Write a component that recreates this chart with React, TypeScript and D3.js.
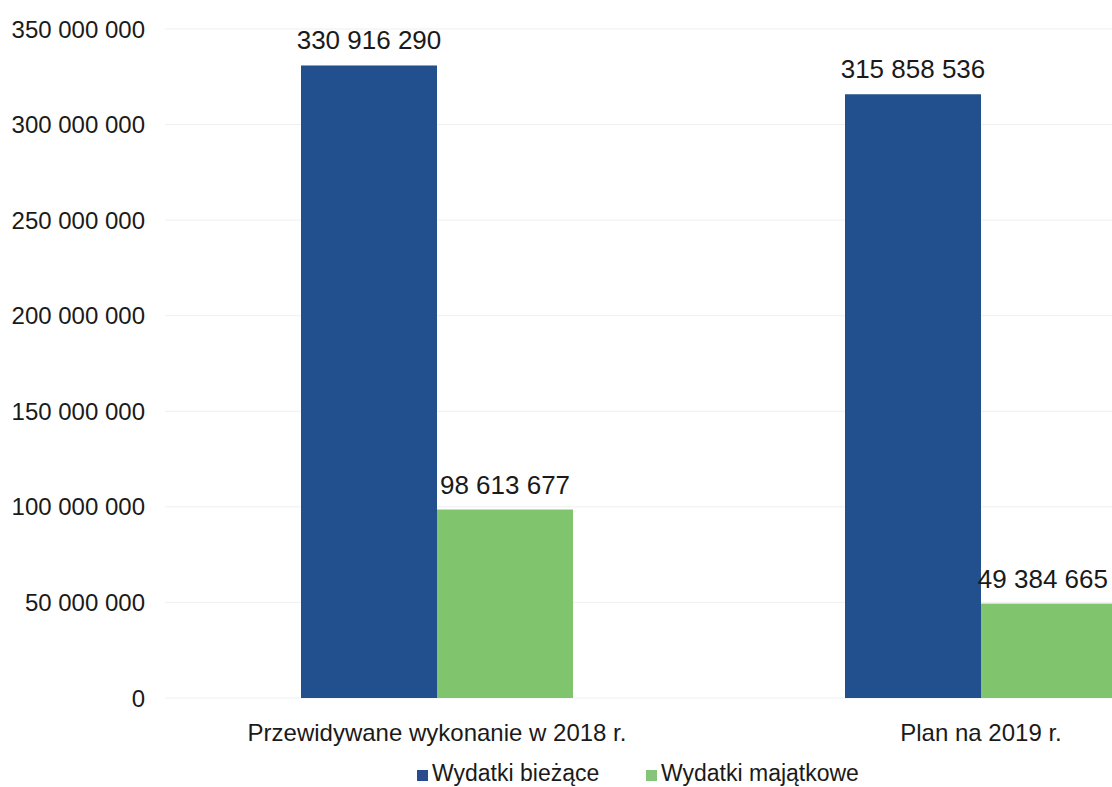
import React from "react";
import * as d3 from "d3";

const categories = ["Przewidywane wykonanie w 2018 r.", "Plan na 2019 r."];
const seriesNames = ["Wydatki bieżące", "Wydatki majątkowe"];
const biezace = [330916290, 315858536];
const majatkowe = [98613677, 49384665];
const yTicks = [0, 50000000, 100000000, 150000000, 200000000, 250000000, 300000000, 350000000];
const colors = ["#22508f", "#80c46e"];
const legendColors = ["#2b4c8c", "#86c47c"];

const W = 1112;
const H = 787;
const FONT = "'Liberation Sans', Arial, sans-serif";

const fmt = (v: number) => d3.format(",")(v).replace(/,/g, " ");

export default function App() {
  const y = d3.scaleLinear().domain([0, 350000000]).range([698, 29]);
  const x = d3.scaleBand().domain(categories).range([165, 1253]).paddingInner(0).paddingOuter(0);
  const bw = x.bandwidth();
  const xs = d3.scaleBand().domain(seriesNames).range([bw * 0.25, bw * 0.75]).padding(0);
  const series = [biezace, majatkowe];
  const labelHalf = 66;

  return (
    <svg width={W} height={H} style={{ position: "absolute", left: 0, top: 0, background: "#fff" }} fontFamily={FONT}>
      <rect width={W} height={H} fill="#fff" />
      {yTicks.map((t) => (
        <g key={t}>
          <line x1={165} x2={W} y1={y(t)} y2={y(t)} stroke="#efefef" strokeWidth={1} />
          <text x={145} y={y(t)} dy="0.36em" textAnchor="end" fontSize={24} fill="#1a1a1a">
            {fmt(t)}
          </text>
        </g>
      ))}
      {categories.map((c, ci) => (
        <g key={c}>
          {seriesNames.map((s, si) => {
            const v = series[si][ci];
            const bx = x(c)! + xs(s)!;
            const cx = bx + xs.bandwidth() / 2;
            const overflow = cx + labelHalf > W - 4;
            return (
              <g key={s}>
                <rect x={bx} y={y(v)} width={xs.bandwidth()} height={y(0) - y(v)} fill={colors[si]} />
                <text
                  x={overflow ? W - 4 : cx}
                  y={y(v) - 16}
                  textAnchor={overflow ? "end" : "middle"}
                  fontSize={26}
                  fill="#1a1a1a"
                >
                  {fmt(v)}
                </text>
              </g>
            );
          })}
          <text x={x(c)! + bw / 2} y={741} textAnchor="middle" fontSize={24} fill="#1a1a1a">
            {c}
          </text>
        </g>
      ))}
      {seriesNames.map((s, i) => {
        const lx = [417, 646][i];
        return (
          <g key={s}>
            <rect x={lx} y={770} width={11} height={11} fill={legendColors[i]} />
            <text x={lx + 15} y={781} fontSize={23} fill="#1a1a1a">
              {s}
            </text>
          </g>
        );
      })}
    </svg>
  );
}
